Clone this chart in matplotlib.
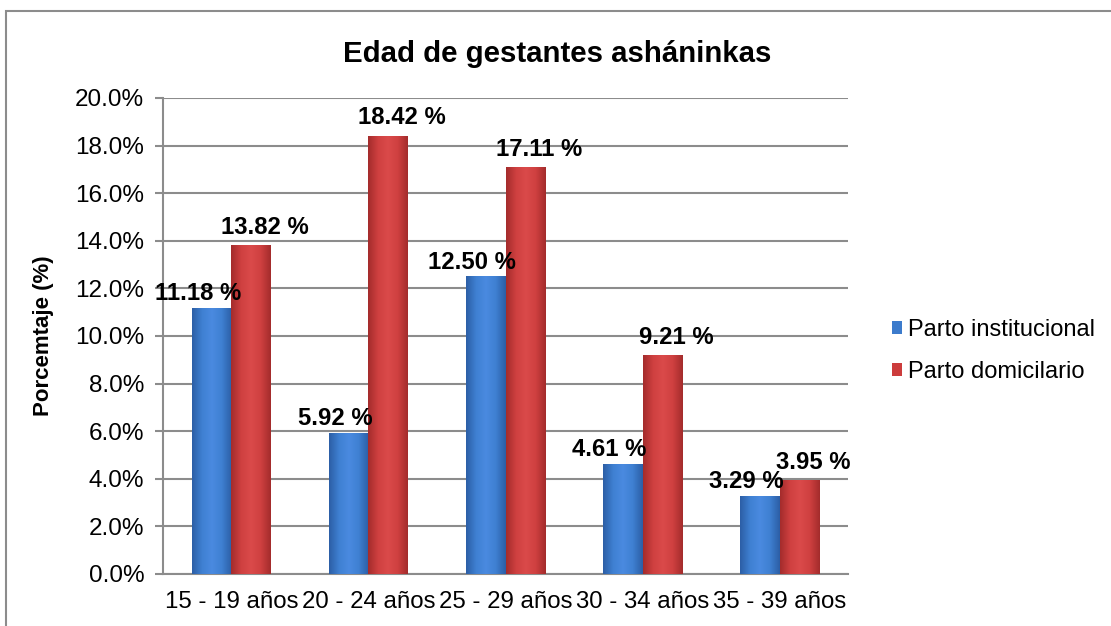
import matplotlib.pyplot as plt
import numpy as np
from matplotlib.patches import Rectangle
from matplotlib.colors import LinearSegmentedColormap

categories = ['15 - 19 años', '20 - 24 años', '25 - 29 años', '30 - 34 años', '35 - 39 años']
institucional = [11.18, 5.92, 12.50, 4.61, 3.29]
domicilario = [13.82, 18.42, 17.11, 9.21, 3.95]
series_names = ['Parto institucional', 'Parto domicilario']
yticks = [0, 2, 4, 6, 8, 10, 12, 14, 16, 18, 20]

plt.rcParams['font.family'] = ['Liberation Sans', 'DejaVu Sans']

fig = plt.figure(figsize=(11.11, 6.26), dpi=100)
ax = fig.add_axes([0.1467, 0.0831, 0.6166, 0.7604])

# outer chart border (top and left visible)
fig.patches.append(Rectangle((6 / 1111, -0.1), 1.2, 1 - 11 / 626 + 0.1,
                             transform=fig.transFigure, fill=False,
                             edgecolor='#8c8c8c', linewidth=1.5, zorder=0))

x = np.arange(len(categories))
w = 0.285
blue_cmap = LinearSegmentedColormap.from_list('b', ['#2c5fa6', '#3f80d2', '#4a8ae0', '#3f80d2', '#2c5fa6'])
red_cmap = LinearSegmentedColormap.from_list('r', ['#a42c2c', '#cf4040', '#da4a4a', '#cf4040', '#a42c2c'])

bars1 = ax.bar(x - w / 2, institucional, w, color='#3c7bcc', label=series_names[0], zorder=3)
bars2 = ax.bar(x + w / 2, domicilario, w, color='#cc3c3c', label=series_names[1], zorder=3)

grad = np.linspace(0, 1, 64).reshape(1, -1)
for bars, cmap in [(bars1, blue_cmap), (bars2, red_cmap)]:
    for b in bars:
        x0, y0 = b.get_x(), b.get_y()
        im = ax.imshow(grad, cmap=cmap, aspect='auto', zorder=4,
                       extent=[x0, x0 + b.get_width(), y0, y0 + b.get_height()])
        im.set_clip_path(b)

for bars, vals, dx, dy in [(bars1, institucional, -10, 2), (bars2, domicilario, 10, 4.5)]:
    for b, v in zip(bars, vals):
        ax.annotate(f"{v:.2f} %", (b.get_x() + b.get_width() / 2, v),
                    xytext=(dx, dy), textcoords='offset points',
                    ha='center', va='bottom', fontsize=17.2, fontweight='bold', zorder=6)

ax.set_xlim(-0.5, len(categories) - 0.5)
ax.set_ylim(0, 20)
ax.set_yticks(yticks)
ax.set_yticklabels([f"{t:.1f}%" for t in yticks])
ax.set_xticks(x)
ax.set_xticklabels(categories)
ax.tick_params(axis='x', length=0, pad=12, labelsize=17.3)
ax.tick_params(axis='y', length=6, width=1.5, color='#8c8c8c', labelsize=17.5, pad=7.5)
ax.yaxis.grid(True, color='#8c8c8c', linewidth=1.5, zorder=0)
ax.set_axisbelow(True)
for s in ['top', 'right']:
    ax.spines[s].set_visible(False)
for s in ['left', 'bottom']:
    ax.spines[s].set_color('#8c8c8c')
    ax.spines[s].set_linewidth(1.5)

ax.set_ylabel('Porcemtaje (%)', fontsize=16, fontweight='bold', labelpad=15)
fig.text(0.5015, 0.914, 'Edad de gestantes asháninkas', ha='center', va='center',
         fontsize=21.2, fontweight='bold')

fig.legend(loc='center left', bbox_to_anchor=(0.7835, 0.439), frameon=False,
           fontsize=17, handlelength=0.45, handleheight=0.45,
           handletextpad=0.25, labelspacing=0.85)

fig.savefig('out.png', dpi=100)
